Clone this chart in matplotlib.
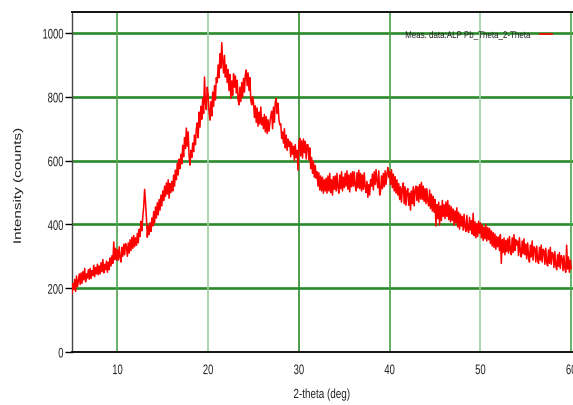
import numpy as np
import matplotlib
matplotlib.use("Agg")
import matplotlib.pyplot as plt
from matplotlib.patheffects import AbstractPathEffect
from matplotlib.transforms import Affine2D

# 2-theta start / step of the scan (deg)
theta_start = 5.0
theta_step = 0.1

# Intensity (counts), one row per degree (5..59) + last point
intensity_rows = [
    [182, 215, 195, 228, 190, 238, 205, 222, 245, 212],  # 5
    [248, 215, 252, 226, 262, 220, 245, 232, 258, 228],  # 6
    [262, 230, 255, 240, 272, 236, 265, 245, 275, 242],  # 7
    [270, 245, 280, 252, 290, 248, 275, 258, 285, 250],  # 8
    [282, 258, 295, 270, 302, 278, 345, 290, 325, 288],  # 9
    [320, 288, 330, 296, 282, 328, 300, 338, 305, 340],  # 10
    [330, 300, 342, 310, 352, 318, 360, 325, 365, 330],  # 11
    [358, 335, 372, 342, 385, 362, 410, 380, 425, 455],  # 12
    [510, 470, 420, 360, 395, 368, 405, 378, 420, 395],  # 13
    [440, 405, 455, 420, 468, 430, 478, 445, 492, 458],  # 14
    [505, 475, 520, 488, 530, 495, 540, 482, 528, 500],  # 15
    [535, 505, 555, 520, 570, 540, 592, 555, 605, 575],  # 16
    [620, 590, 648, 612, 672, 638, 702, 645, 690, 615],  # 17
    [586, 632, 610, 655, 628, 680, 650, 700, 718, 672],  # 18
    [752, 705, 770, 730, 795, 748, 862, 780, 760, 830],  # 19
    [805, 752, 727, 785, 740, 815, 770, 835, 790, 860],  # 20
    [845, 900, 860, 935, 890, 970, 915, 875, 930, 862],  # 21
    [900, 845, 885, 820, 870, 795, 850, 805, 872, 830],  # 22
    [865, 812, 852, 790, 775, 830, 785, 845, 800, 858],  # 23
    [815, 870, 884, 835, 875, 820, 860, 790, 775, 800],  # 24
    [782, 735, 772, 720, 765, 708, 752, 715, 768, 712],  # 25
    [735, 700, 745, 690, 738, 685, 728, 692, 718, 740],  # 26
    [755, 700, 768, 720, 785, 795, 748, 780, 728, 712],  # 27
    [715, 670, 690, 655, 700, 640, 680, 632, 668, 645],  # 28
    [660, 612, 655, 620, 645, 600, 650, 610, 632, 570],  # 29
    [655, 670, 615, 662, 608, 668, 625, 660, 605, 650],  # 30
    [650, 602, 640, 575, 610, 560, 598, 548, 585, 545],  # 31
    [565, 520, 562, 508, 552, 505, 548, 498, 540, 505],  # 32
    [545, 498, 552, 505, 560, 500, 540, 492, 550, 510],  # 33
    [552, 505, 560, 515, 498, 555, 512, 565, 505, 548],  # 34
    [515, 560, 520, 568, 510, 555, 502, 560, 518, 565],  # 35
    [520, 565, 522, 505, 562, 515, 570, 512, 560, 505],  # 36
    [555, 510, 562, 518, 500, 535, 485, 525, 492, 540],  # 37
    [520, 558, 508, 565, 525, 572, 535, 515, 568, 492],  # 38
    [505, 552, 512, 560, 518, 568, 525, 558, 578, 548],  # 39
    [565, 525, 572, 515, 558, 505, 550, 498, 540, 492],  # 40
    [528, 478, 518, 470, 512, 530, 465, 518, 460, 505],  # 41
    [512, 460, 498, 445, 505, 465, 518, 458, 508, 520],  # 42
    [475, 518, 470, 525, 480, 532, 478, 520, 472, 512],  # 43
    [465, 512, 472, 458, 508, 450, 495, 442, 488, 438],  # 44
    [478, 395, 462, 418, 470, 398, 458, 412, 475, 425],  # 45
    [462, 418, 470, 425, 475, 415, 460, 408, 455, 412],  # 46
    [448, 398, 442, 405, 452, 392, 438, 385, 432, 395],  # 47
    [425, 382, 432, 390, 378, 428, 385, 375, 422, 382],  # 48
    [412, 370, 435, 365, 408, 358, 402, 362, 410, 372],  # 49
    [405, 358, 398, 350, 392, 355, 400, 348, 390, 352],  # 50
    [388, 340, 380, 332, 375, 328, 370, 322, 362, 330],  # 51
    [360, 318, 368, 278, 352, 312, 358, 305, 350, 315],  # 52
    [355, 310, 362, 318, 305, 358, 312, 368, 318, 352],  # 53
    [335, 348, 302, 358, 315, 298, 348, 308, 355, 305],  # 54
    [338, 292, 342, 302, 282, 335, 298, 348, 288, 330],  # 55
    [325, 282, 332, 292, 278, 328, 288, 335, 282, 322],  # 56
    [318, 275, 325, 282, 270, 320, 278, 328, 275, 312],  # 57
    [308, 265, 315, 272, 258, 305, 268, 312, 262, 302],  # 58
    [295, 255, 302, 262, 250, 335, 260, 298, 250, 288],  # 59
    [262],                                               # 60
]

x_ticks = [10, 20, 30, 40, 50, 60]
y_ticks = [0, 200, 400, 600, 800, 1000]
legend_label = "Meas. data:ALP Pb_Theta_2-Theta"
x_label = "2-theta (deg)"
y_label = "Intensity (counts)"

intensity = np.array([v for row in intensity_rows for v in row], dtype=float)
two_theta = theta_start + theta_step * np.arange(len(intensity))


class HSqueeze(AbstractPathEffect):
    """Draw text narrower (horizontal squeeze about an anchor) - text stays real text."""

    def __init__(self, sx=0.7, anchor="center"):
        super().__init__()
        self.sx = sx
        self.anchor = anchor

    def draw_path(self, renderer, gc, tpath, affine, rgbFace=None):
        ext = affine.transform_path(tpath).get_extents()
        if self.anchor == "right":
            a = ext.x1
        elif self.anchor == "left":
            a = ext.x0
        else:
            a = 0.5 * (ext.x0 + ext.x1)
        t = affine + Affine2D().translate(-a, 0).scale(self.sx, 1).translate(a, 0)
        renderer.draw_path(gc, tpath, t, rgbFace)


font = ["Liberation Sans", "DejaVu Sans"]
txt_color = "#222222"

fig = plt.figure(figsize=(5.73, 4.05), dpi=100)
ax = fig.add_axes([72 / 573, 1 - 352 / 405, 1 - 72 / 573, (352 - 12) / 405])

ax.set_xlim(5, 60.2)
ax.set_ylim(0, 1066)
ax.set_xticks(x_ticks)
ax.set_yticks(y_ticks)

for y in y_ticks[1:]:
    ax.axhline(y, color="#2b8a2b", lw=1.9, zorder=1)
vline_colors = ["#4fa64f", "#9fcf9f", "#2e8b2e", "#46a046", "#9fcf9f", "#4fa64f"]
for x, c in zip(x_ticks, vline_colors):
    ax.axvline(x, color=c, lw=1.2, zorder=1)

ax.plot(two_theta, intensity, color="#ff0000", lw=1.1, zorder=3)

ax.tick_params(axis="x", length=0, pad=8)
ax.tick_params(axis="y", length=5, width=1, pad=1, direction="out")
for lab in ax.get_xticklabels():
    lab.set_fontfamily(font)
    lab.set_fontsize(10)
    lab.set_color(txt_color)
    lab.set_path_effects([HSqueeze(0.68, "center")])
for lab in ax.get_yticklabels():
    lab.set_fontfamily(font)
    lab.set_fontsize(10)
    lab.set_color(txt_color)
    lab.set_path_effects([HSqueeze(0.68, "right")])

for s in ["top", "bottom"]:
    ax.spines[s].set_linewidth(1.4)
    ax.spines[s].set_color("#111111")
ax.spines["left"].set_linewidth(1.0)
ax.spines["left"].set_color("#444444")
ax.spines["right"].set_visible(False)

# legend (no frame): text + red line sample
fig.text(405 / 573, 1 - 35 / 405, legend_label, fontsize=7, family=font,
         color=txt_color, va="center", ha="left",
         path_effects=[HSqueeze(0.82, "left")])
fig.add_artist(plt.Line2D([540 / 573, 552 / 573], [1 - 34 / 405, 1 - 34 / 405],
                          color="#ff0000", lw=1.2, transform=fig.transFigure))

fig.text(322 / 573, 1 - 395 / 405, x_label, fontsize=9.5, family=font,
         color=txt_color, ha="center", va="center",
         path_effects=[HSqueeze(0.75, "center")])
fig.text(18 / 573, 1 - 186 / 405, y_label, fontsize=11, family=font,
         color=txt_color, ha="center", va="center", rotation=90,
         path_effects=[HSqueeze(0.72, "center")])

fig.savefig("out.png", dpi=100)
